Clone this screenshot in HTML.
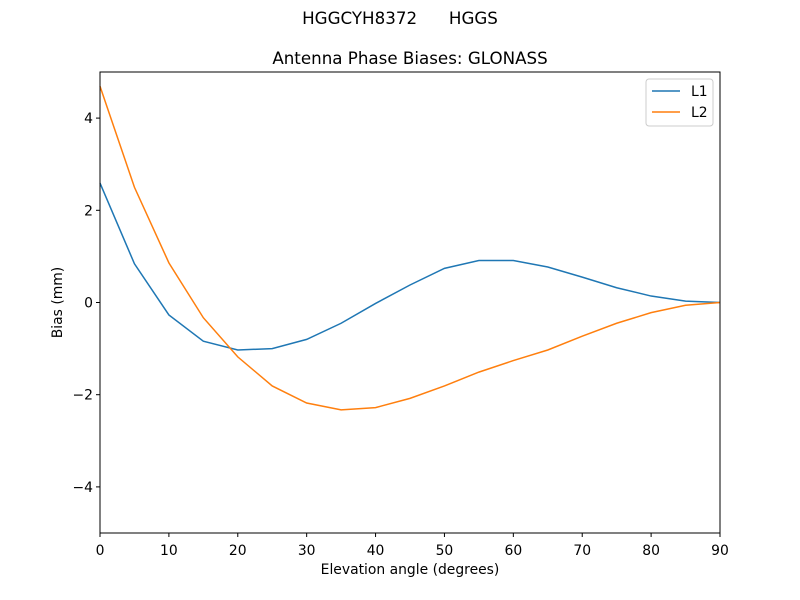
<!DOCTYPE html>
<html><head><meta charset="utf-8"><style>
body{margin:0;background:#fff;}
svg{display:block;font-family:"DejaVu Sans","Liberation Sans",sans-serif;}
</style></head><body>
<svg id="chart" width="800" height="600" xmlns="http://www.w3.org/2000/svg">
<rect width="800" height="600" fill="#fff"/>
<text x="400" y="24" font-size="16.7" text-anchor="middle" style="white-space:pre" xml:space="preserve">HGGCYH8372      HGGS</text>
<text x="410" y="64" font-size="16.7" text-anchor="middle">Antenna Phase Biases: GLONASS</text>
<g id="plot"></g>
<text x="410" y="574" font-size="13.9" text-anchor="middle">Elevation angle (degrees)</text>
<text transform="translate(62,302.5) rotate(-90)" font-size="13.9" text-anchor="middle">Bias (mm)</text>
</svg>
<script>
const elev=[0,5,10,15,20,25,30,35,40,45,50,55,60,65,70,75,80,85,90];
const l1=[2.59,0.84,-0.27,-0.84,-1.03,-1.0,-0.8,-0.45,-0.02,0.38,0.74,0.91,0.91,0.77,0.55,0.32,0.14,0.03,0];
const l2=[4.69,2.5,0.86,-0.33,-1.18,-1.81,-2.18,-2.33,-2.28,-2.08,-1.81,-1.51,-1.26,-1.03,-0.73,-0.45,-0.22,-0.06,0];
const xTicks=[0,10,20,30,40,50,60,70,80,90];
const yTicks=[-4,-2,0,2,4];
const L=100,R=720,T=72,B=533;
const xs=v=>L+(v-0)/90*(R-L);
const ys=v=>B-(v+5)/10*(B-T);
const NS="http://www.w3.org/2000/svg";
const g=document.getElementById('plot');
function mk(t,a){const e=document.createElementNS(NS,t);for(const k in a)e.setAttribute(k,a[k]);g.appendChild(e);return e;}
xTicks.forEach(v=>{
 const l=mk('line',{x1:xs(v),x2:xs(v),y1:B,y2:B+4,stroke:'#000'});
 
 
 const t=mk('text',{x:xs(v),y:B+22,'font-size':13.9,'text-anchor':'middle'});t.textContent=v;
 
 
});
yTicks.forEach(v=>{
 const l=mk('line',{x1:L-4,x2:L,y1:ys(v),y2:ys(v),stroke:'#000'});
 
 
 const t=mk('text',{x:L-7,y:ys(v)+5,'font-size':13.9,'text-anchor':'end'});t.textContent=(v<0?'\u2212'+(-v):v);
 
 
});
function line(data,color,name){
 const p=mk('polyline',{points:data.map((v,i)=>xs(elev[i])+','+ys(v)).join(' '),fill:'none',stroke:color,'stroke-width':1.5});
 
 
}
line(l1,'#1f77b4','series-l1');
line(l2,'#ff7f0e','series-l2');
const fr=mk('rect',{x:L,y:T,width:R-L,height:B-T,fill:'none',stroke:'#000','stroke-width':1});


const lg=mk('rect',{x:646,y:79,width:67,height:47,rx:3,fill:'#fff',stroke:'#ccc'});


[['L1','#1f77b4',91],['L2','#ff7f0e',112]].forEach(([n,c,y])=>{
 const l=mk('line',{x1:652,x2:680,y1:y,y2:y,stroke:c,'stroke-width':1.5});
 
 
 const t=mk('text',{x:691,y:y+5,'font-size':13.9});t.textContent=n;
 
 
});
</script>
</body></html>
